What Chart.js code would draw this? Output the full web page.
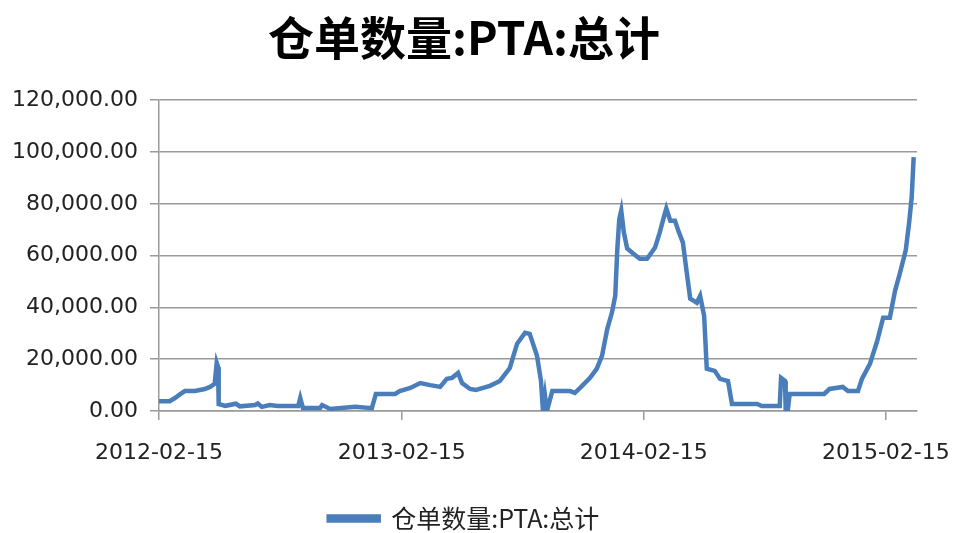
<!DOCTYPE html>
<html><head><meta charset="utf-8">
<script src="https://cdn.jsdelivr.net/npm/chart.js@4.4.1/dist/chart.umd.min.js"></script>
<style>html,body{margin:0;padding:0;background:#fff}</style>
</head><body>
<canvas id="c" width="960" height="533"></canvas>
<script>
const seriesName = '仓单数量:PTA:总计';
const dates = [
 '2012-02-15','2012-03-02','2012-03-10','2012-03-18','2012-03-25','2012-04-09','2012-04-24','2012-05-02','2012-05-09','2012-05-12','2012-05-14','2012-05-15',
 '2012-05-25','2012-06-10','2012-06-16','2012-07-09','2012-07-13','2012-07-19','2012-07-31','2012-08-12','2012-09-12','2012-09-15','2012-09-19','2012-10-15',
 '2012-10-18','2012-10-30','2012-12-07','2013-01-01','2013-01-07','2013-02-05','2013-02-12','2013-02-28','2013-03-15','2013-03-30','2013-04-14','2013-04-24',
 '2013-05-02','2013-05-11','2013-05-17','2013-05-29','2013-06-07','2013-06-28','2013-07-13','2013-07-28','2013-08-08','2013-08-20','2013-08-27','2013-09-07',
 '2013-09-13','2013-09-16','2013-09-19','2013-09-22','2013-09-30','2013-10-27','2013-11-03','2013-11-11','2013-11-26','2013-12-06','2013-12-14','2013-12-22',
 '2013-12-29','2014-01-03','2014-01-06','2014-01-09','2014-01-12','2014-01-16','2014-01-21','2014-01-30','2014-02-09','2014-02-20','2014-03-04','2014-03-11',
 '2014-03-18','2014-03-21','2014-03-27','2014-04-03','2014-04-08','2014-04-15','2014-04-20','2014-04-26','2014-05-06','2014-05-11','2014-05-17','2014-05-21',
 '2014-06-02','2014-06-10','2014-06-22','2014-06-28','2014-08-05','2014-08-12','2014-09-08','2014-09-10','2014-09-16','2014-09-17','2014-09-20','2014-09-23',
 '2014-11-14','2014-11-22','2014-12-12','2014-12-20','2015-01-04','2015-01-10','2015-01-22','2015-02-02','2015-02-11','2015-02-21','2015-03-01','2015-03-08',
 '2015-03-17','2015-03-22','2015-03-26','2015-03-29'
];
const values = [
 3800,3800,5000,6500,7700,7700,8500,9300,10500,18600,17000,2700,
 2000,2800,1800,2300,2900,1600,2300,1900,1900,5000,1200,1200,
 2300,800,1600,1100,6600,6600,7700,8900,10800,10000,9300,12400,
 12800,14700,10800,8500,8100,9700,11600,16600,26000,30200,29800,21300,
 11600,0,6000,0,7700,7700,7000,8900,12800,16300,21300,31700,
 38000,44500,62000,74000,77400,68900,62700,60800,58800,58800,63100,68900,
 75500,78200,73500,73500,69700,65000,55000,43400,41800,44500,36800,16300,
 15500,12400,11600,2700,2700,1900,1900,12800,11600,0,0,6600,
 6600,8500,9300,7700,7700,12400,18200,27100,36000,36000,46500,53000,
 62000,72400,82500,98000
];
const tickDates = ['2012-02-15','2013-02-15','2014-02-15','2015-02-15'];
const yTicks = [0,20000,40000,60000,80000,100000,120000];
const axisEndDate = '2015-04-03';

const base = Date.parse(tickDates[0] + 'T00:00:00Z');
const dayOf = s => Math.round((Date.parse(s + 'T00:00:00Z') - base) / 86400000);
const points = dates.map((d, i) => ({x: dayOf(d), y: values[i]}));
const tickDays = tickDates.map(dayOf);

const FONT = '"DejaVu Sans", sans-serif';
const CJK = '"Noto Sans CJK SC", "DejaVu Sans", sans-serif';
const BLUE = '#4a7ebb';
const GRID = '#9a9a9a';

new Chart(document.getElementById('c'), {
  type: 'line',
  data: { datasets: [{
    label: seriesName, data: points,
    borderColor: BLUE, backgroundColor: BLUE, borderWidth: 4.5,
    pointRadius: 0, tension: 0, fill: false
  }]},
  options: {
    responsive: false, animation: false, devicePixelRatio: 1,
    layout: { padding: { left: 11, right: 43, top: 0, bottom: -8 } },
    plugins: {
      title: { display: true, text: seriesName, color: '#000',
        font: { family: CJK, size: 46, weight: 'bold' }, padding: { top: 10, bottom: 35 } },
      legend: { position: 'bottom',
        labels: { color: '#222', font: { family: CJK, size: 25 }, boxWidth: 50, boxHeight: 4, padding: 0 } },
      tooltip: { enabled: false }
    },
    scales: {
      x: { type: 'linear', min: 0, max: dayOf(axisEndDate),
        afterBuildTicks: s => { s.ticks = tickDays.map(v => ({ value: v })); },
        afterFit: s => { s.paddingLeft = 0; s.paddingRight = 0; s.height = 95; },
        ticks: { autoSkip: false, maxRotation: 0, color: '#222', font: { family: FONT, size: 22 }, padding: 20,
          callback: v => { const i = tickDays.indexOf(v); return i >= 0 ? tickDates[i] : ''; } },
        grid: { drawOnChartArea: false, drawTicks: true, tickLength: 9, color: GRID, lineWidth: 1.5 },
        border: { display: true, color: GRID, width: 1.5 }
      },
      y: { min: 0, max: 120000,
        afterBuildTicks: s => { s.ticks = yTicks.map(v => ({ value: v })); },
        afterFit: s => { s.width = 148; s.paddingTop = 0; s.paddingBottom = 0; },
        ticks: { color: '#222', font: { family: FONT, size: 22 }, padding: 12,
          callback: v => v.toLocaleString('en-US', { minimumFractionDigits: 2, maximumFractionDigits: 2 }) },
        grid: { drawOnChartArea: true, drawTicks: true, tickLength: 9, color: GRID, lineWidth: 1.5 },
        border: { display: true, color: GRID, width: 1.5 }
      }
    }
  }
});
</script>
</body></html>
